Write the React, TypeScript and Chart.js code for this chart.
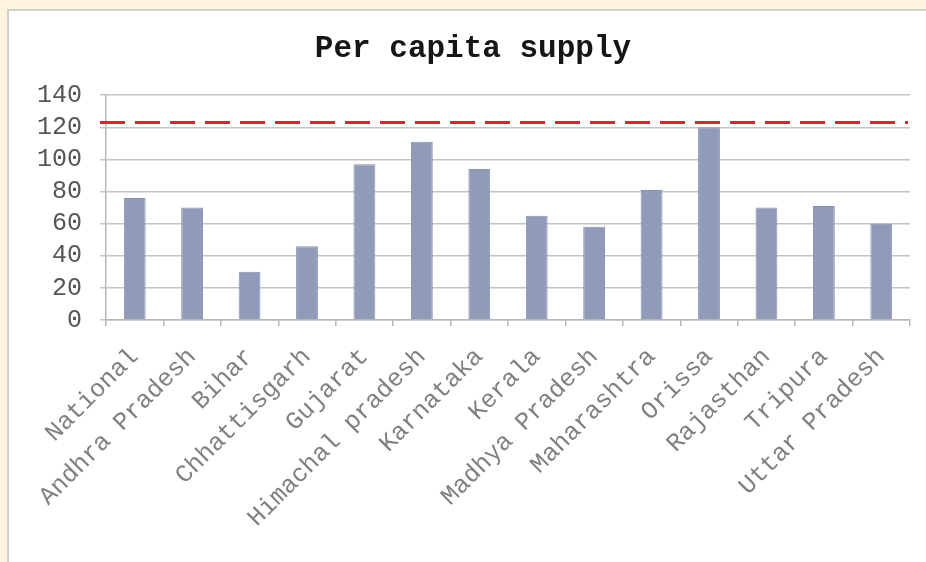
import React, { useEffect, useRef } from "react";
import { Chart, registerables } from "chart.js";

Chart.register(...registerables);

const TITLE = "Per capita supply";
const categories = [
  "National",
  "Andhra Pradesh",
  "Bihar",
  "Chhattisgarh",
  "Gujarat",
  "Himachal pradesh",
  "Karnataka",
  "Kerala",
  "Madhya Pradesh",
  "Maharashtra",
  "Orissa",
  "Rajasthan",
  "Tripura",
  "Uttar Pradesh",
];
const supply = [76, 70, 30, 46, 97, 111, 94, 65, 58, 81, 120, 70, 71, 60];
const targetValue = 123;
const yMin = 0;
const yMax = 140;
const yStep = 20;

const FONT = "'Courier New', 'Liberation Mono', monospace";

const targetLinePlugin = {
  id: "targetLine",
  afterDatasetsDraw(chart: any) {
    const { ctx, chartArea, scales } = chart;
    const y = scales.y.getPixelForValue(targetValue);
    ctx.save();
    ctx.strokeStyle = "#e8202a";
    ctx.lineWidth = 3;
    ctx.setLineDash([25, 10]);
    ctx.beginPath();
    ctx.moveTo(chartArea.left - 6, y);
    ctx.lineTo(chartArea.right - 2, y);
    ctx.stroke();
    ctx.restore();
  },
};

export default function App() {
  const ref = useRef<HTMLCanvasElement>(null);

  useEffect(() => {
    document.body.style.margin = "0";
    document.body.style.background = "#fdf3de";
    const chart = new Chart(ref.current as HTMLCanvasElement, {
      type: "bar",
      data: {
        labels: categories,
        datasets: [
          {
            label: TITLE,
            data: supply,
            backgroundColor: "#8f9bb9",
            borderColor: "#8592b2",
            borderWidth: 1,
            categoryPercentage: 1,
            barPercentage: 0.38,
          },
        ],
      },
      options: {
        responsive: false,
        animation: false,
        layout: { padding: { left: 36, right: 16, top: 10, bottom: 0 } },
        plugins: {
          legend: { display: false },
          tooltip: { enabled: false },
          title: {
            display: true,
            text: TITLE,
            color: "#161616",
            font: { family: FONT, size: 31, weight: "bold", lineHeight: 1.2 },
            padding: { top: 21, bottom: 27 },
          },
        },
        scales: {
          x: {
            offset: true,
            afterFit(scale: any) {
              scale.height = 242;
            },
            grid: {
              display: true,
              offset: true,
              drawOnChartArea: false,
              drawTicks: true,
              tickLength: 6,
              color: "#b8b8b8",
              lineWidth: 1.5,
            },
            border: { display: true, color: "#b8b8b8", width: 1.5 },
            ticks: {
              autoSkip: false,
              minRotation: 45,
              maxRotation: 45,
              padding: 16,
              color: "#808080",
              font: { family: FONT, size: 25 },
            },
          },
          y: {
            min: yMin,
            max: yMax,
            afterFit(scale: any) {
              scale.width = 70;
            },
            grid: {
              color: "#c4c4c4",
              lineWidth: 1.5,
              drawTicks: true,
              tickLength: 6,
            },
            border: { display: true, color: "#b8b8b8", width: 1.5 },
            ticks: {
              stepSize: yStep,
              autoSkip: false,
              padding: 18,
              color: "#555",
              font: { family: FONT, size: 25 },
            },
          },
        },
      },
      plugins: [targetLinePlugin],
    });
    return () => chart.destroy();
  }, []);

  return (
    <div style={{ position: "relative", width: 926, height: 562, overflow: "hidden" }}>
      <div
        style={{
          position: "absolute",
          left: 7,
          top: 9,
          width: 940,
          height: 580,
          border: "2px solid #cfcfcf",
          background: "#ffffff",
        }}
      />
      <canvas
        ref={ref}
        width={926}
        height={562}
        style={{ position: "absolute", left: 0, top: 0, width: 926, height: 562 }}
      />
    </div>
  );
}
